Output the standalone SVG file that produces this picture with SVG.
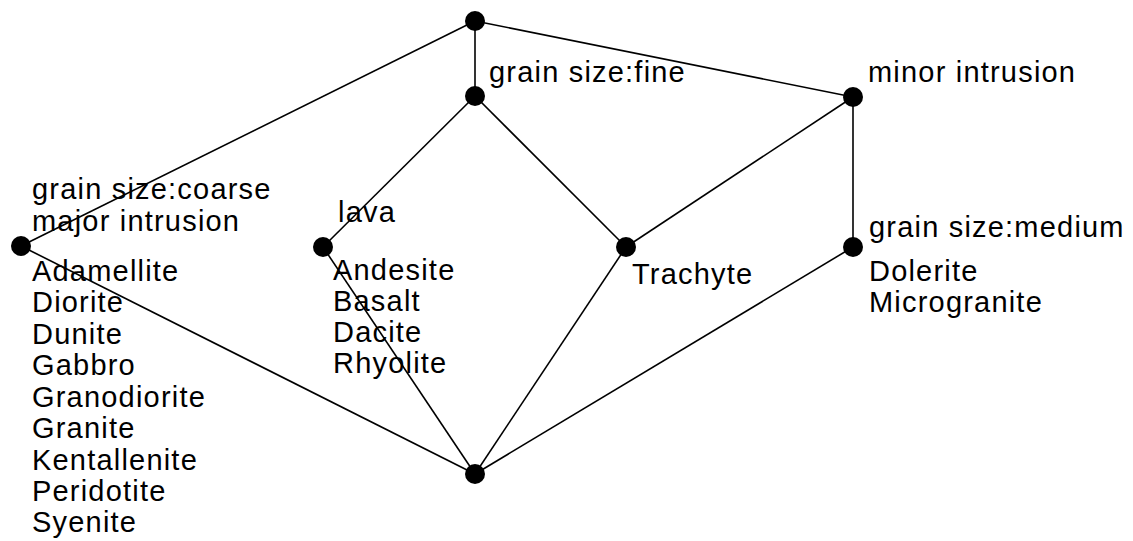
<svg xmlns="http://www.w3.org/2000/svg" width="1133" height="541" viewBox="0 0 1133 541">
  <style>
    .edge { stroke: #000; stroke-width: 1.6; fill: none; }
    .dot { fill: #000; }
    text { font-family: "Liberation Sans", Arial, sans-serif; font-size: 29px; letter-spacing: 1.2px; fill: #000; }
  </style>
  <rect width="1133" height="541" fill="#fff"/>
  <g id="connectors">
    <line class="edge" x1="475" y1="21" x2="21" y2="246"/>
    <line class="edge" x1="475" y1="21" x2="475" y2="96"/>
    <line class="edge" x1="475" y1="21" x2="853" y2="97"/>
    <line class="edge" x1="475" y1="96" x2="323" y2="247"/>
    <line class="edge" x1="475" y1="96" x2="626" y2="247"/>
    <line class="edge" x1="853" y1="97" x2="626" y2="247"/>
    <line class="edge" x1="853" y1="97" x2="853" y2="247"/>
    <line class="edge" x1="21" y1="246" x2="475" y2="474"/>
    <line class="edge" x1="323" y1="247" x2="475" y2="474"/>
    <line class="edge" x1="626" y1="247" x2="475" y2="474"/>
    <line class="edge" x1="853" y1="247" x2="475" y2="474"/>
  </g>
  <g id="node-top">
    <circle class="dot" cx="475" cy="21" r="10"/>
  </g>
  <g id="node-fine">
    <circle class="dot" cx="475" cy="96" r="10"/>
    <text x="489" y="82">grain size:fine</text>
  </g>
  <g id="node-minor">
    <circle class="dot" cx="853" cy="97" r="10"/>
    <text x="868" y="82">minor intrusion</text>
  </g>
  <g id="node-coarse">
    <circle class="dot" cx="21" cy="246" r="10"/>
    <text x="32" y="199">grain size:coarse</text>
    <text x="32" y="231">major intrusion</text>
    <text x="32" y="281">Adamellite</text>
    <text x="32" y="312">Diorite</text>
    <text x="32" y="344">Dunite</text>
    <text x="32" y="375">Gabbro</text>
    <text x="32" y="407">Granodiorite</text>
    <text x="32" y="438">Granite</text>
    <text x="32" y="470">Kentallenite</text>
    <text x="32" y="501">Peridotite</text>
    <text x="32" y="532">Syenite</text>
  </g>
  <g id="node-lava">
    <circle class="dot" cx="323" cy="247" r="10"/>
    <text x="338" y="222">lava</text>
    <text x="333" y="280">Andesite</text>
    <text x="333" y="311">Basalt</text>
    <text x="333" y="342">Dacite</text>
    <text x="333" y="373">Rhyolite</text>
  </g>
  <g id="node-trachyte">
    <circle class="dot" cx="626" cy="247" r="10"/>
    <text x="632" y="284">Trachyte</text>
  </g>
  <g id="node-medium">
    <circle class="dot" cx="853" cy="247" r="10"/>
    <text x="869" y="237">grain size:medium</text>
    <text x="869" y="281">Dolerite</text>
    <text x="869" y="312">Microgranite</text>
  </g>
  <g id="node-bottom">
    <circle class="dot" cx="475" cy="474" r="10"/>
  </g>
</svg>
